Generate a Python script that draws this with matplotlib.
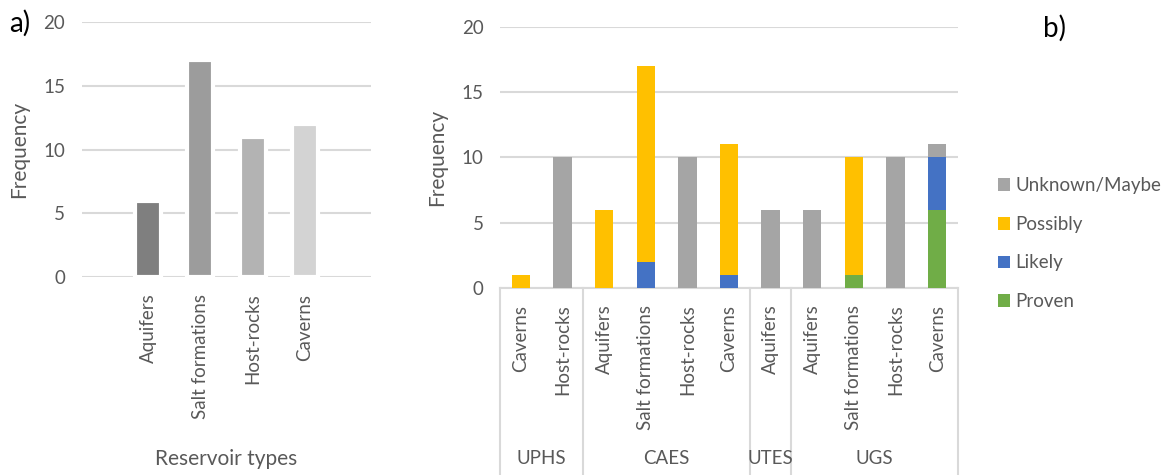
import matplotlib.pyplot as plt
import numpy as np

plt.rcParams['font.family'] = ['Lato', 'DejaVu Sans']

# panel a data
res_types = ['Aquifers', 'Salt formations', 'Host-rocks', 'Caverns']
res_freq = [6, 17, 11, 12]
res_colors = ['#7f7f7f', '#9c9c9c', '#b3b3b3', '#d3d3d3']

# panel b data
b_labels = ['Caverns', 'Host-rocks', 'Aquifers', 'Salt formations', 'Host-rocks', 'Caverns',
            'Aquifers', 'Aquifers', 'Salt formations', 'Host-rocks', 'Caverns']
groups = ['UPHS', 'CAES', 'UTES', 'UGS']
group_sizes = [2, 4, 1, 4]
proven = [0, 0, 0, 0, 0, 0, 0, 0, 1, 0, 6]
likely = [0, 0, 0, 2, 0, 1, 0, 0, 0, 0, 4]
possibly = [1, 0, 6, 15, 0, 10, 0, 0, 9, 0, 0]
unknown = [0, 10, 0, 0, 10, 0, 6, 6, 0, 10, 1]

grid_c = '#d9d9d9'
txt_c = '#595959'
fs = 13.5

fig = plt.figure(figsize=(11.63, 4.75), dpi=100)

# ---- panel a
ax1 = fig.add_axes([0.0705, 0.4168, 0.2485, 0.5369])
x = np.arange(len(res_types))
ax1.set_axisbelow(True)
ax1.yaxis.grid(True, color=grid_c, lw=1.5)
ax1.bar(x, res_freq, width=0.5, color=res_colors, edgecolor='white', linewidth=3, zorder=3)
ax1.set_xlim(-1.26, 4.26)
ax1.set_ylim(0, 20)
ax1.set_yticks([0, 5, 10, 15, 20])
ax1.set_xticks(x)
ax1.set_xticklabels(res_types, rotation=90, fontsize=fs, color=txt_c)
ax1.tick_params(axis='y', labelsize=fs, labelcolor=txt_c, length=0, pad=12)
ax1.tick_params(axis='x', length=0, pad=12)
for s in ax1.spines.values():
    s.set_visible(False)
ax1.set_ylabel('Frequency', fontsize=15, color=txt_c, labelpad=10)
ax1.set_xlabel('Reservoir types', fontsize=15, color=txt_c, labelpad=22)
fig.text(0.008, 0.951, 'a)', fontsize=20, va='center', ha='left')

# ---- panel b
ax2 = fig.add_axes([0.43, 0.3937, 0.3937, 0.5495])
xb = np.arange(len(b_labels))
ax2.set_axisbelow(True)
ax2.yaxis.grid(True, color=grid_c, lw=1.5)
w = 0.44
bottom = np.zeros(len(xb))
series = [('Proven', proven, '#70ad47'), ('Likely', likely, '#4472c4'),
          ('Possibly', possibly, '#ffc000'), ('Unknown/Maybe', unknown, '#a5a5a5')]
handles = {}
for name, vals, col in series:
    vals = np.array(vals)
    handles[name] = ax2.bar(xb, vals, width=w, bottom=bottom, color=col, zorder=3, label=name)
    bottom += vals
ax2.set_xlim(-0.5, len(xb) - 0.5)
ax2.set_ylim(0, 20)
ax2.set_yticks([0, 5, 10, 15, 20])
ax2.set_xticks(xb)
ax2.set_xticklabels(b_labels, rotation=90, fontsize=fs, color=txt_c)
ax2.tick_params(axis='y', labelsize=fs, labelcolor=txt_c, length=0, pad=12)
ax2.tick_params(axis='x', length=0, pad=12)
for s in ['top', 'right', 'left']:
    ax2.spines[s].set_visible(False)
ax2.spines['bottom'].set_color(grid_c)
ax2.spines['bottom'].set_linewidth(1.5)
ax2.set_ylabel('Frequency', fontsize=15, color=txt_c, labelpad=10)

# multi-level category axis
trans = ax2.get_xaxis_transform()
ybot = -0.72
edges = np.concatenate([[0], np.cumsum(group_sizes)]) - 0.5
for e in edges:
    ax2.plot([e, e], [0, ybot], transform=trans, color=grid_c, lw=1.5, clip_on=False)
for i, g in enumerate(groups):
    ax2.text((edges[i] + edges[i + 1]) / 2, -0.655, g, transform=trans, ha='center', va='center',
             fontsize=fs, color=txt_c)

order = ['Unknown/Maybe', 'Possibly', 'Likely', 'Proven']
leg = ax2.legend([handles[n] for n in order], order, loc='center left', bbox_to_anchor=(1.05, 0.17),
                 frameon=False, fontsize=13.5, handlelength=0.65, handleheight=0.65,
                 handletextpad=0.3, labelspacing=1.15)
for t in leg.get_texts():
    t.set_color(txt_c)
fig.text(0.897, 0.94, 'b)', fontsize=20, va='center', ha='left')

fig.savefig('out.png', dpi=100)
